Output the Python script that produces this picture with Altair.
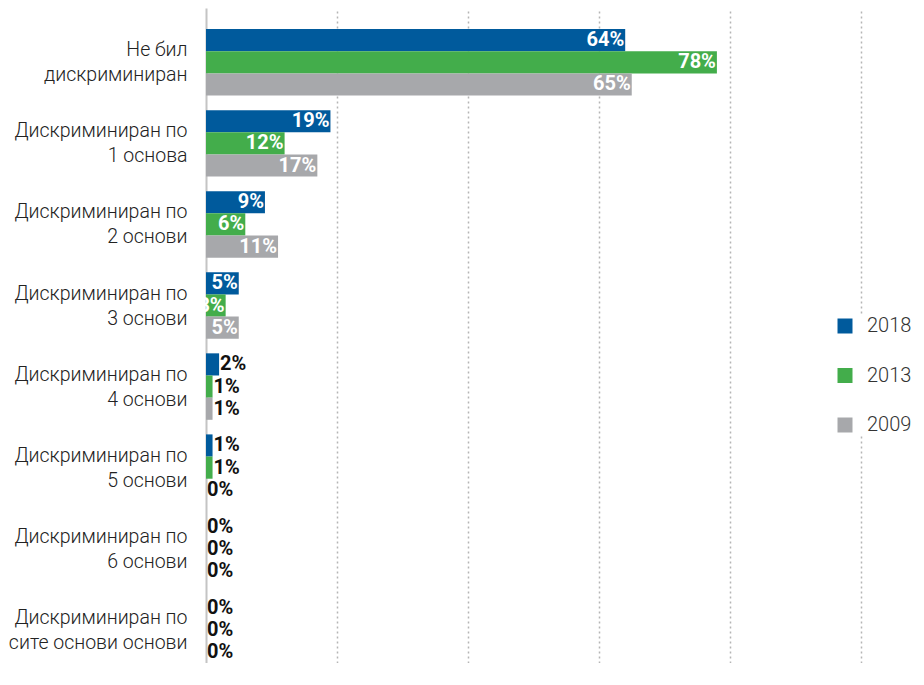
import altair as alt
import pandas as pd

categories = [
    "Не бил|дискриминиран",
    "Дискриминиран по|1 основа",
    "Дискриминиран по|2 основи",
    "Дискриминиран по|3 основи",
    "Дискриминиран по|4 основи",
    "Дискриминиран по|5 основи",
    "Дискриминиран по|6 основи",
    "Дискриминиран по|сите основи основи",
]
years = ["2018", "2013", "2009"]
v2018 = [64, 19, 9, 5, 2, 1, 0, 0]
v2013 = [78, 12, 6, 3, 1, 1, 0, 0]
v2009 = [65, 17, 11, 5, 1, 0, 0, 0]
colors = ["#005a9c", "#43ad4b", "#a7a8ab"]

rows = []
for yr, vals in zip(years, [v2018, v2013, v2009]):
    for c, v in zip(categories, vals):
        rows.append({"cat": c, "year": yr, "value": v, "label": f"{v}%"})
df = pd.DataFrame(rows)

y_enc = alt.Y(
    "cat:N",
    sort=categories,
    scale=alt.Scale(paddingInner=0.18, paddingOuter=0.13, align=1),
    axis=alt.Axis(
        title=None,
        labelExpr="split(datum.label, '|')",
        ticks=False,
        labelPadding=19,
        labelFont="Roboto",
        labelFontWeight=300,
        labelFontSize=19.5,
        labelColor="#222222",
        labelLineHeight=25,
        labelAlign="right",
        labelBaseline="middle",
        labelOffset=-12,
        labelLimit=400,
        domainColor="#c4c4c4",
        domainWidth=2,
        grid=False,
        minExtent=197,
        maxExtent=197,
    ),
)
yoff_enc = alt.YOffset("year:N", sort=years, scale=alt.Scale(paddingInner=0, paddingOuter=0))
x_enc = alt.X(
    "value:Q",
    scale=alt.Scale(domain=[0, 100]),
    axis=alt.Axis(
        title=None,
        labels=False,
        ticks=False,
        domain=False,
        values=[20, 40, 60, 80, 100],
        grid=True,
        gridDash=[2, 3],
        gridColor="#b5b5b5",
        gridWidth=1.5,
    ),
)

base = alt.Chart(df)

bars = base.mark_bar().encode(
    y=y_enc,
    yOffset=yoff_enc,
    x=x_enc,
    color=alt.Color(
        "year:N",
        sort=years,
        scale=alt.Scale(domain=years, range=colors),
        legend=alt.Legend(
            title=None,
            orient="none",
            legendX=629,
            legendY=308,
            symbolType="square",
            symbolSize=225,
            symbolStrokeWidth=0,
            labelFont="Roboto",
            labelFontWeight=300,
            labelFontSize=20,
            labelColor="#333333",
            labelOffset=12,
            rowPadding=29.5,
            padding=0,
            fillColor="white",
        ),
    ),
)

label_font = "Roboto"

inside = base.transform_filter("datum.value >= 3").mark_text(
    align="right", baseline="middle", dx=-1, color="white",
    font=label_font, fontWeight="bold", fontSize=20,
).encode(y=y_enc, yOffset=yoff_enc, x=x_enc, text="label:N")

outside = base.transform_filter("datum.value < 3").mark_text(
    align="left", baseline="middle", dx=1, color="#111111",
    font=label_font, fontWeight="bold", fontSize=20,
).encode(y=y_enc, yOffset=yoff_enc, x=x_enc, text="label:N")

chart = (
    alt.layer(bars, inside, outside)
    .properties(width=655, height=655, padding={"left": 0, "top": 0, "right": 0, "bottom": 0})
    .configure_view(stroke=None)
)

chart.save("out.html", embed_options={"renderer": "svg", "actions": False})
